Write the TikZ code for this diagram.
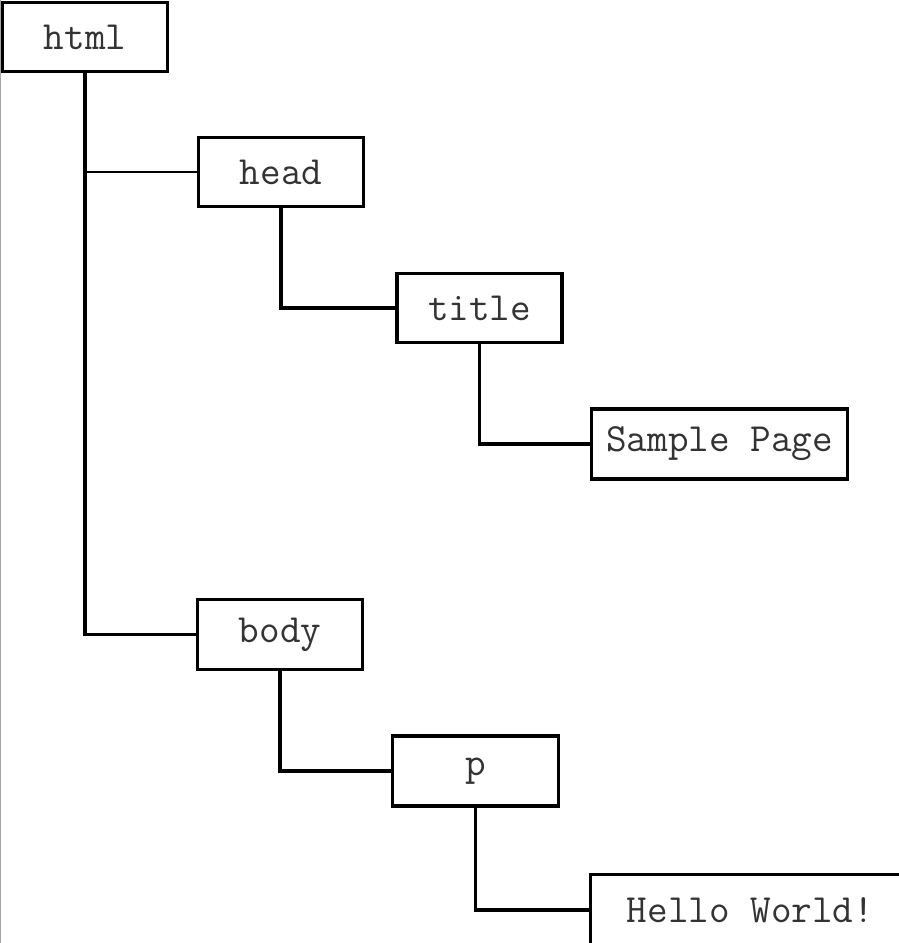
\documentclass[tikz,border=0pt]{standalone}
\usepackage{fontspec}
\begin{document}
\begin{tikzpicture}[x=1pt,y=-1pt,
  treebox/.style={draw=black,line width=3.2pt,fill=white,inner sep=0pt,
    font=\ttfamily\fontsize{40}{40}\selectfont,text=black!80},
  link/.style={line width=3.2pt,draw=black},
  thinlink/.style={line width=2pt,draw=black}]
\useasboundingbox (0,0) rectangle (899,943);
\fill[white] (0,0) rectangle (899,943);
\draw[gray!70,line width=1.5pt] (0.6,0) -- (0.6,943);
\node[treebox,minimum width=165pt,minimum height=69pt] (html) at (85,37) {html};
\node[treebox,minimum width=165pt,minimum height=69pt] (head) at (281,172) {head};
\node[treebox,minimum width=165pt,minimum height=69pt] (title) at (479.5,308) {title};
\node[treebox,minimum width=256pt,minimum height=70pt] (sample) at (719.5,444) {Sample Page};
\node[treebox,minimum width=165pt,minimum height=70pt] (body) at (280,634.5) {body};
\node[treebox,minimum width=166pt,minimum height=70pt] (p) at (475.5,771) {p};
\node[treebox,minimum width=320pt,minimum height=71pt] (hello) at (750.5,910) {Hello World!};
\draw[link] (html.south) |- (body.west);
\draw[thinlink] (html.south |- head.west) -- (head.west);
\draw[link] (head.south) |- (title.west);
\draw[link] (title.south) |- (sample.west);
\draw[link] (body.south) |- (p.west);
\draw[link] (p.south) |- (hello.west);
\end{tikzpicture}
\end{document}
